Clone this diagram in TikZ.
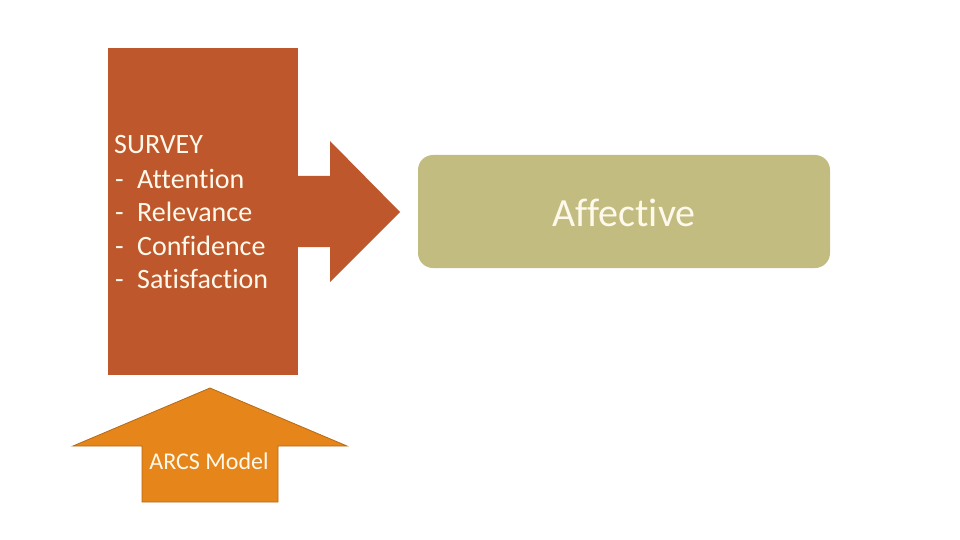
\documentclass[tikz,border=0pt]{standalone}
\usepackage{fontspec}
\setmainfont{Carlito}[Ligatures=CommonOff]
\definecolor{rust}{HTML}{BE582C}
\definecolor{orng}{HTML}{E5851A}
\definecolor{orngdark}{HTML}{B56A18}
\definecolor{olive}{HTML}{C2BC80}
\definecolor{cream}{HTML}{FFF9EC}
\begin{document}
\begin{tikzpicture}[x=1pt,y=-1pt,
  txt/.style={text=cream,inner sep=0pt},
  surv/.style={txt,anchor=west,font=\fontsize{28}{34}\selectfont},
  rustshape/.style={fill=rust,draw=none}]
\useasboundingbox[fill=white] (0,0) rectangle (960,540);
% right arrow
\fill[rust] (290,176) -- (330,176) -- (330,141) -- (400,212) -- (330,282) -- (330,247) -- (290,247) -- cycle;
% survey box
\node[rustshape,minimum width=190pt,minimum height=327pt,anchor=north west,inner sep=0pt] (survey) at (108,48) {};
\node[surv] (s0) at (114,145) {SURVEY};
\node[surv] (s1) at (114,179) {\makebox[23pt][l]{\hspace{1pt}-}Attention};
\node[surv] (s2) at (114,212) {\makebox[23pt][l]{\hspace{1pt}-}Relevance};
\node[surv] (s3) at (114,246) {\makebox[23pt][l]{\hspace{1pt}-}Confidence};
\node[surv] (s4) at (114,279) {\makebox[23pt][l]{\hspace{1pt}-}Satisfaction};
% affective
\node[fill=olive,rounded corners=15pt,minimum width=412pt,minimum height=113pt,inner sep=0pt] (aff) at (624,211.5) {};
\node[txt,font=\fontsize{40}{48}\selectfont] (afftxt) at (624,213) {Affective};
% up arrow
\draw[fill=orng,draw=orngdark,line width=0.8pt,line join=miter] (142,502) -- (142,446) -- (73,446) -- (210,388) -- (347,446) -- (278,446) -- (278,502) -- cycle;
\node[txt,font=\fontsize{24}{29}\selectfont] (arcs) at (209,461) {ARCS Model};
\end{tikzpicture}
\end{document}
